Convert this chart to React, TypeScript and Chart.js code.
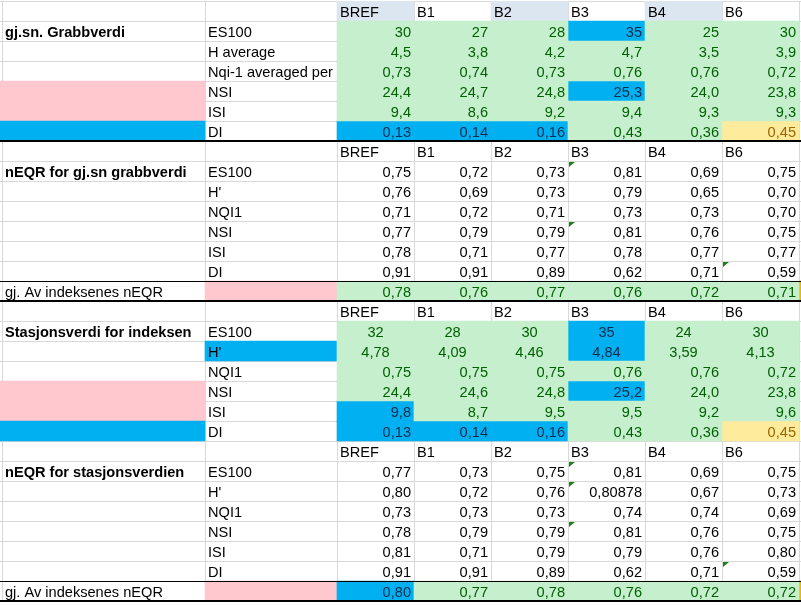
import { useEffect, useRef } from 'react';
import { Chart, registerables } from 'chart.js';

Chart.register(...registerables);

// ---------- data ----------
const stations = ['BREF', 'B1', 'B2', 'B3', 'B4', 'B6'];
const grabIndexNames = ['ES100', 'H average', 'Nqi-1 averaged per station', 'NSI', 'ISI', 'DI'];
const indexNames = ['ES100', "H'", 'NQI1', 'NSI', 'ISI', 'DI'];
const sectionTitles = ['gj.sn. Grabbverdi', 'nEQR for gj.sn grabbverdi', 'Stasjonsverdi for indeksen', 'nEQR for stasjonsverdien'];
const averageLabel = 'gj. Av indeksenes nEQR';

// gj.sn. Grabbverdi
const grabES100 = [30, 27, 28, 35, 25, 30];
const grabH = [4.5, 3.8, 4.2, 4.7, 3.5, 3.9];
const grabNQI1 = [0.73, 0.74, 0.73, 0.76, 0.76, 0.72];
const grabNSI = [24.4, 24.7, 24.8, 25.3, 24.0, 23.8];
const grabISI = [9.4, 8.6, 9.2, 9.4, 9.3, 9.3];
const grabDI = [0.13, 0.14, 0.16, 0.43, 0.36, 0.45];
const grabDecimals = [0, 1, 2, 1, 1, 2];

// nEQR for gj.sn grabbverdi
const neqrGrabES100 = [0.75, 0.72, 0.73, 0.81, 0.69, 0.75];
const neqrGrabH = [0.76, 0.69, 0.73, 0.79, 0.65, 0.70];
const neqrGrabNQI1 = [0.71, 0.72, 0.71, 0.73, 0.73, 0.70];
const neqrGrabNSI = [0.77, 0.79, 0.79, 0.81, 0.76, 0.75];
const neqrGrabISI = [0.78, 0.71, 0.77, 0.78, 0.77, 0.77];
const neqrGrabDI = [0.91, 0.91, 0.89, 0.62, 0.71, 0.59];
const neqrGrabAvg = [0.78, 0.76, 0.77, 0.76, 0.72, 0.71];

// Stasjonsverdi for indeksen
const statES100 = [32, 28, 30, 35, 24, 30];
const statH = [4.78, 4.09, 4.46, 4.84, 3.59, 4.13];
const statNQI1 = [0.75, 0.75, 0.75, 0.76, 0.76, 0.72];
const statNSI = [24.4, 24.6, 24.8, 25.2, 24.0, 23.8];
const statISI = [9.8, 8.7, 9.5, 9.5, 9.2, 9.6];
const statDI = [0.13, 0.14, 0.16, 0.43, 0.36, 0.45];
const statDecimals = [0, 2, 2, 1, 1, 2];

// nEQR for stasjonsverdien
const neqrStatES100 = [0.77, 0.73, 0.75, 0.81, 0.69, 0.75];
const neqrStatH = [0.80, 0.72, 0.76, 0.80878, 0.67, 0.73];
const neqrStatNQI1 = [0.73, 0.73, 0.73, 0.74, 0.74, 0.69];
const neqrStatNSI = [0.78, 0.79, 0.79, 0.81, 0.76, 0.75];
const neqrStatISI = [0.81, 0.71, 0.79, 0.79, 0.76, 0.80];
const neqrStatDI = [0.91, 0.91, 0.89, 0.62, 0.71, 0.59];
const neqrStatAvg = [0.80, 0.77, 0.78, 0.76, 0.72, 0.72];

// cells flagged with the green error triangle: [row, station]
const errorMarkers: [number, string][] = [
  [8, 'B3'], [11, 'B3'], [13, 'B6'], [23, 'B3'], [24, 'B3'], [26, 'B3'], [28, 'B6'],
];

// ---------- layout / style (not data) ----------
// column edges in x-scale units: A, B, BREF..B6, I
const colEdges = [0, 205, 337, 414, 491, 568, 645, 722, 799, 801];
const gridXs = [2, 205, 337, 414, 491, 568, 645, 722, 799];
// fill codes per row, one char per column A..I
const fillMap = [
  '..h.h.h..',
  '..gggbgg.',
  '..gggggg.',
  '..gggggg.',
  'p.gggbgg.',
  'p.gggggg.',
  'b.bbbggy.',
  '.........',
  '.........',
  '.........',
  '.........',
  '.........',
  '.........',
  '.........',
  '.pggggggo',
  '.........',
  '..gggbgg.',
  '.bgggbgg.',
  '..gggggg.',
  'p.gggbgg.',
  'p.bggggg.',
  'b.bbbggy.',
  '.........',
  '.........',
  '.........',
  '.........',
  '.........',
  '.........',
  '.........',
  '.pbgggggo',
];
const fillColors: Record<string, string> = {
  g: '#C6EFCE', b: '#00B0F0', p: '#FFC7CE', y: '#FFEB9C', h: '#DCE6F1', o: '#F4B400',
};
const textColors: Record<string, string> = {
  g: '#006100', b: '#0E2C4E', y: '#9C6500',
};
// horizontal black borders: boundary (top of row index) and line width
const blackBorders = [
  { row: 7, w: 2 }, { row: 14, w: 1 }, { row: 15, w: 2 }, { row: 29, w: 1 }, { row: 30, w: 2 },
];
const FONT = "'Liberation Sans', Arial, sans-serif";
const FONT_SIZE = 14.6;

function fmt(v: number, d: number): string {
  const s = String(v);
  const own = s.includes('.') ? s.split('.')[1].length : 0;
  return v.toFixed(Math.max(d, own)).replace('.', ',');
}

type Row = { a?: string; aBold?: boolean; b?: string; vals?: string[]; header?: boolean; center?: boolean };

function buildRows(): Row[] {
  const rows: Row[] = [];
  const section = (title: string, labels: string[], series: number[][], decimals: number[], avg: number[] | null, centerCount: number) => {
    rows.push({ vals: stations, header: true });
    series.forEach((s, i) => {
      rows.push({
        a: i === 0 ? title : undefined,
        aBold: true,
        b: labels[i],
        vals: s.map((v) => fmt(v, decimals[i])),
        center: i < centerCount,
      });
    });
    if (avg) rows.push({ a: averageLabel, aBold: false, vals: avg.map((v) => fmt(v, 2)) });
  };
  section(sectionTitles[0], grabIndexNames, [grabES100, grabH, grabNQI1, grabNSI, grabISI, grabDI], grabDecimals, null, 0);
  section(sectionTitles[1], indexNames, [neqrGrabES100, neqrGrabH, neqrGrabNQI1, neqrGrabNSI, neqrGrabISI, neqrGrabDI], [2, 2, 2, 2, 2, 2], neqrGrabAvg, 0);
  section(sectionTitles[2], indexNames, [statES100, statH, statNQI1, statNSI, statISI, statDI], statDecimals, null, 2);
  section(sectionTitles[3], indexNames, [neqrStatES100, neqrStatH, neqrStatNQI1, neqrStatNSI, neqrStatISI, neqrStatDI], [2, 2, 2, 2, 2, 2], neqrStatAvg, 0);
  return rows;
}

const rows = buildRows();
const rowLabels = rows.map((_, i) => String(i));

function buildDatasets() {
  const codes = Object.keys(fillColors);
  return codes.map((code) => {
    const data: { x: [number, number]; y: string }[] = [];
    fillMap.forEach((line, r) => {
      for (let c = 0; c < line.length; c++) {
        if (line[c] === code) data.push({ x: [colEdges[c], colEdges[c + 1]], y: String(r) });
      }
    });
    return {
      label: code,
      data,
      backgroundColor: fillColors[code],
      borderWidth: 0,
      grouped: false,
      barPercentage: 1,
      categoryPercentage: 1,
    };
  });
}

const tablePlugin = {
  id: 'tableCells',
  afterDatasetsDraw(chart: any) {
    const { ctx } = chart;
    const xs = chart.scales.x;
    const ys = chart.scales.y;
    const rowH = Math.abs(ys.getPixelForValue(1) - ys.getPixelForValue(0));
    const cx = (i: number) => xs.getPixelForValue(colEdges[i]);
    const rowTop = (r: number) => ys.getPixelForValue(r) - rowH / 2;
    ctx.save();
    rows.forEach((row, r) => {
      const top = rowTop(r);
      const base = top + rowH * 0.8;
      ctx.textBaseline = 'alphabetic';
      if (row.a) {
        ctx.font = `${row.aBold ? 'bold ' : ''}${FONT_SIZE}px ${FONT}`;
        ctx.fillStyle = '#000';
        ctx.textAlign = 'left';
        ctx.fillText(row.a, cx(0) + 5, base);
      }
      if (row.b) {
        ctx.save();
        ctx.beginPath();
        ctx.rect(cx(1), top, cx(2) - cx(1), rowH);
        ctx.clip();
        ctx.font = `${FONT_SIZE}px ${FONT}`;
        ctx.fillStyle = '#000';
        ctx.textAlign = 'left';
        ctx.fillText(row.b, cx(1) + 3, base);
        ctx.restore();
      }
      if (row.vals) {
        ctx.font = `${FONT_SIZE}px ${FONT}`;
        row.vals.forEach((t, i) => {
          const c = i + 2;
          const x0 = cx(c);
          const x1 = cx(c + 1);
          const code = fillMap[r][c];
          ctx.fillStyle = row.header ? '#000' : textColors[code] || '#000';
          if (row.header) {
            ctx.textAlign = 'left';
            ctx.fillText(t, x0 + 3, base);
          } else if (row.center) {
            ctx.textAlign = 'center';
            ctx.fillText(t, (x0 + x1) / 2, base);
          } else {
            ctx.textAlign = 'right';
            ctx.fillText(t, x1 - 3, base);
          }
        });
      }
    });
    // error triangles
    ctx.fillStyle = '#1B7F1B';
    errorMarkers.forEach(([r, st]) => {
      const c = stations.indexOf(st) + 2;
      const x0 = Math.round(cx(c)) + 1;
      const y0 = Math.round(rowTop(r)) + 1;
      ctx.beginPath();
      ctx.moveTo(x0, y0);
      ctx.lineTo(x0 + 6, y0);
      ctx.lineTo(x0, y0 + 5);
      ctx.closePath();
      ctx.fill();
    });
    // black borders
    ctx.fillStyle = '#000';
    blackBorders.forEach(({ row, w }) => {
      const y = Math.round(rowTop(row)) - Math.floor(w / 2);
      ctx.fillRect(0, y, chart.width, w);
    });
    ctx.restore();
  },
};

export default function App() {
  const ref = useRef<HTMLCanvasElement | null>(null);
  useEffect(() => {
    document.body.style.margin = '0';
    const canvas = ref.current;
    if (!canvas) return;
    const chart = new Chart(canvas, {
      type: 'bar',
      data: { labels: rowLabels, datasets: buildDatasets() as any },
      options: {
        indexAxis: 'y',
        animation: false,
        responsive: true,
        maintainAspectRatio: false,
        events: [],
        layout: { padding: { top: 1, bottom: 4, left: 0, right: 0 } },
        plugins: { legend: { display: false }, tooltip: { enabled: false }, title: { display: false } },
        scales: {
          x: {
            type: 'linear',
            min: 0,
            max: 801,
            display: true,
            ticks: { display: false },
            grid: { color: '#D9D9D9', drawTicks: false, lineWidth: 1 },
            border: { display: false },
            afterBuildTicks: (axis: any) => {
              axis.ticks = gridXs.map((v) => ({ value: v }));
            },
          },
          y: {
            type: 'category',
            display: true,
            offset: true,
            ticks: { display: false },
            grid: { color: '#D9D9D9', drawTicks: false, offset: true, lineWidth: 1 },
            border: { display: false },
          },
        },
      } as any,
      plugins: [tablePlugin],
    });
    return () => chart.destroy();
  }, []);
  return (
    <div style={{ position: 'fixed', left: 0, top: 0, width: 801, height: 605, background: '#fff' }}>
      <canvas ref={ref} style={{ display: 'block' }} />
    </div>
  );
}
